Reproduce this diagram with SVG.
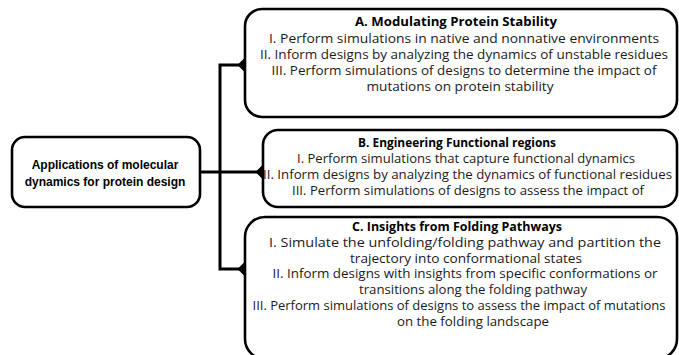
<svg xmlns="http://www.w3.org/2000/svg" width="679" height="355" viewBox="0 0 679 355">
<style>
.box{fill:#fff;stroke:#000;stroke-width:2.6}
.conn{fill:none;stroke:#000;stroke-width:3}
.dia{fill:#000}
.t{font-family:"Open Sans","Liberation Sans",sans-serif;font-size:12.2px;fill:#1a1a1a;text-anchor:middle}
.h{font-weight:bold;fill:#000}
.m{font-family:"Liberation Sans",Arial,sans-serif;font-size:12px;font-weight:bold;fill:#000;text-anchor:middle}
</style>
<g id="connectors">
<path class="conn" d="M200 172 H262"/>
<path class="conn" d="M244 65 H220 V269 H244"/>
<path class="dia" d="M244 58.5 L250.5 65 L244 71.5 L237.5 65 Z"/>
<path class="dia" d="M262 165.5 L268.5 172 L262 178.5 L255.5 172 Z"/>
<path class="dia" d="M244 262.5 L250.5 269 L244 275.5 L237.5 269 Z"/>
</g>
<g id="root">
<rect class="box" x="12" y="137" width="188" height="70" rx="13"/>
<text class="m" x="105" y="169">Applications of molecular</text>
<text class="m" x="105" y="186">dynamics for protein design</text>
</g>
<g id="nodeA">
<rect class="box" x="245" y="9" width="432" height="108" rx="17"/>
<text class="t h" x="456" y="26" textLength="202" lengthAdjust="spacingAndGlyphs">A. Modulating Protein Stability</text>
<text class="t" x="464" y="42.5" textLength="390" lengthAdjust="spacingAndGlyphs">I. Perform simulations in native and nonnative environments</text>
<text class="t" x="464" y="58.5" textLength="408" lengthAdjust="spacingAndGlyphs">II. Inform designs by analyzing the dynamics of unstable residues</text>
<text class="t" x="464" y="74.5" textLength="385" lengthAdjust="spacingAndGlyphs">III. Perform simulations of designs to determine the impact of</text>
<text class="t" x="460" y="90.5" textLength="187" lengthAdjust="spacingAndGlyphs">mutations on protein stability</text>
</g>
<g id="nodeB">
<rect class="box" x="263" y="130" width="414" height="77" rx="15"/>
<text class="t h" x="457" y="146.5" textLength="198" lengthAdjust="spacingAndGlyphs">B. Engineering Functional regions</text>
<text class="t" x="466" y="162.5" textLength="338" lengthAdjust="spacingAndGlyphs">I. Perform simulations that capture functional dynamics</text>
<text class="t" x="467.5" y="178.5" textLength="409" lengthAdjust="spacingAndGlyphs">II. Inform designs by analyzing the dynamics of functional residues</text>
<text class="t" x="468" y="194.5" textLength="352" lengthAdjust="spacingAndGlyphs">III. Perform simulations of designs to assess the impact of</text>
</g>
<g id="nodeC">
<rect class="box" x="245" y="217" width="432" height="142" rx="20"/>
<text class="t h" x="457" y="230.5" textLength="210" lengthAdjust="spacingAndGlyphs">C. Insights from Folding Pathways</text>
<text class="t" x="465" y="246.5" textLength="392" lengthAdjust="spacingAndGlyphs">I. Simulate the unfolding/folding pathway and partition the</text>
<text class="t" x="466" y="262.5" textLength="232" lengthAdjust="spacingAndGlyphs">trajectory into conformational states</text>
<text class="t" x="465" y="278" textLength="385" lengthAdjust="spacingAndGlyphs">II. Inform designs with insights from specific conformations or</text>
<text class="t" x="473" y="294" textLength="228" lengthAdjust="spacingAndGlyphs">transitions along the folding pathway</text>
<text class="t" x="459" y="310" textLength="413" lengthAdjust="spacingAndGlyphs">III. Perform simulations of designs to assess the impact of mutations</text>
<text class="t" x="473" y="326" textLength="152" lengthAdjust="spacingAndGlyphs">on the folding landscape</text>
</g>
</svg>
